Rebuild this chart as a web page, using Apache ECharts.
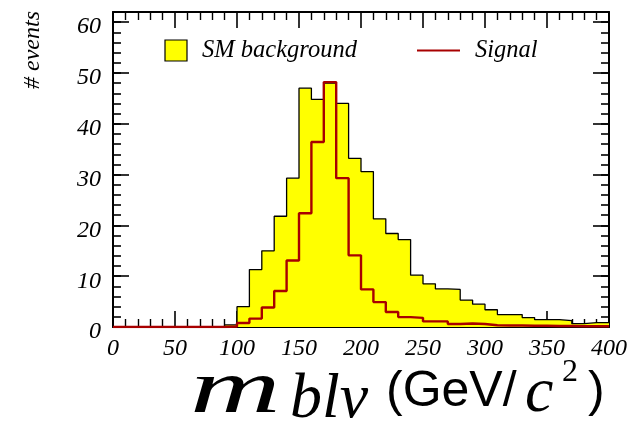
<!DOCTYPE html>
<html>
<head>
<meta charset="utf-8">
<script src="https://cdn.jsdelivr.net/npm/echarts@6/dist/echarts.min.js"></script>
<style>html,body{margin:0;padding:0;background:#fff}#c{width:642px;height:428px}</style>
</head>
<body>
<div id="c"></div>
<script>
// bin lower edges (width 10) from 0 to 390
const binEdges = [0,10,20,30,40,50,60,70,80,90,100,110,120,130,140,150,160,170,180,190,200,210,220,230,240,250,260,270,280,290,300,310,320,330,340,350,360,370,380,390];
const binWidth = 10;
const smBackground = [0,0,0,0,0,0,0,0,0,0.4,4.0,11.3,15.0,21.8,29.3,47.0,44.8,48.0,44.0,33.2,30.6,21.3,18.4,17.2,10.2,8.5,7.5,7.4,5.3,4.5,3.4,2.45,2.45,1.85,1.45,1.45,1.25,0.65,0.85,0.85];
const signal = [0,0,0,0,0,0,0,0,0,0.1,0.8,1.65,3.85,7.1,13.1,22.4,36.4,48.2,29.3,14.1,7.4,4.9,2.95,1.95,1.8,1.1,1.1,0.6,0.7,0.6,0.35,0.3,0.3,0.25,0.25,0.2,0.2,0.15,0.15,0.15];
const xTicks = [0,50,100,150,200,250,300,350,400];
const yTicks = [0,10,20,30,40,50,60];
const legendNames = ['SM background','Signal'];

function stepData(vals){
  const d = binEdges.map((e,i)=>[e, vals[i]]);
  d.push([binEdges[binEdges.length-1]+binWidth, vals[vals.length-1]]);
  return d;
}

const serifItalic = {fontFamily:'Liberation Serif', fontStyle:'italic', color:'#000'};
const chart = echarts.init(document.getElementById('c'), null, {renderer:'canvas'});
const G = {left:113, top:12, width:496, height:315};

function xAx(pos, labels){
  return {
    type:'value', position:pos, min:xTicks[0], max:xTicks[xTicks.length-1], interval:50,
    axisLine:{show:true, onZero:false, lineStyle:{color:'#000', width:2}},
    axisTick:{show:true, inside:true, length:16, lineStyle:{color:'#000', width:1.6}},
    minorTick:{show:true, splitNumber:5, length:8, lineStyle:{color:'#000', width:1.4}},
    splitLine:{show:false}, minorSplitLine:{show:false},
    axisLabel:{show:labels, margin:10, fontSize:24, ...serifItalic, showMinLabel:true, showMaxLabel:true}
  };
}
function yAx(pos, interval, len, labels, line){
  return {
    type:'value', position:pos, min:0, max:62, interval:interval,
    axisLine:{show:line, onZero:false, lineStyle:{color:'#000', width:2}},
    axisTick:{show:true, inside:true, length:len, lineStyle:{color:'#000', width:1.6}},
    splitLine:{show:false},
    axisLabel:{show:labels, margin:12,
      formatter:v=> yTicks.indexOf(v)>=0 ? '{p|' + v + '}' : '',
      rich:{p:{fontSize:24, fontFamily:'Liberation Serif', fontStyle:'italic', color:'#000', padding:[10,0,0,0]}}}
  };
}

chart.setOption({
  animation:false,
  backgroundColor:'#fff',
  grid:G,
  xAxis:[xAx('bottom', true), xAx('top', false)],
  yAxis:[yAx('left',10,16,true,true), yAx('left',2,8,false,false), yAx('right',10,16,false,true), yAx('right',2,8,false,false)],
  series:[
    {name:legendNames[0], type:'line', step:'end', data:stepData(smBackground), symbol:'none',
     lineStyle:{color:'#000', width:1.3}, areaStyle:{color:'#ffff00', opacity:1, origin:'start'}, z:2},
    {name:legendNames[1], type:'line', step:'end', data:stepData(signal), symbol:'none',
     lineStyle:{color:'#a80000', width:2.4}, z:3}
  ],
  graphic:[
    {type:'rect', shape:{x:165, y:40, width:22, height:21}, style:{fill:'#ffff00', stroke:'#000', lineWidth:1.2}, z:10},
    {type:'text', x:202, y:51, style:{text:legendNames[0], font:'italic 24.5px "Liberation Serif"', fill:'#000', verticalAlign:'middle'}, z:10},
    {type:'line', shape:{x1:417, y1:50.5, x2:460, y2:50.5}, style:{stroke:'#a80000', lineWidth:2}, z:10},
    {type:'text', x:475, y:51, style:{text:legendNames[1], font:'italic 24.5px "Liberation Serif"', fill:'#000', verticalAlign:'middle'}, z:10},
    {type:'text', x:33, y:50, rotation:Math.PI/2, style:{text:'# events', font:'italic 24px "Liberation Serif"', fill:'#000', align:'center', verticalAlign:'middle'}, z:10},
    {type:'text', x:190, y:392, scaleX:1.65, style:{text:'m', font:'italic 76px "Liberation Serif"', fill:'#000', stroke:'#fff', lineWidth:2.5, verticalAlign:'middle'}, z:10},
    {type:'text', x:290, y:400, style:{text:'blν', font:'italic 64px "Liberation Serif"', fill:'#000', stroke:'#fff', lineWidth:1, verticalAlign:'middle'}, z:10},
    {type:'text', x:386, y:392, style:{text:'(GeV/', font:'50px "Liberation Sans"', fill:'#000', verticalAlign:'middle'}, z:10},
    {type:'text', x:525, y:394, style:{text:'c', font:'italic 64px "Liberation Serif"', fill:'#000', verticalAlign:'middle'}, z:10},
    {type:'text', x:562, y:373, style:{text:'2', font:'32px "Liberation Serif"', fill:'#000', verticalAlign:'middle'}, z:10},
    {type:'text', x:588, y:392, style:{text:')', font:'50px "Liberation Sans"', fill:'#000', verticalAlign:'middle'}, z:10}
  ]
});
</script>
</body>
</html>
